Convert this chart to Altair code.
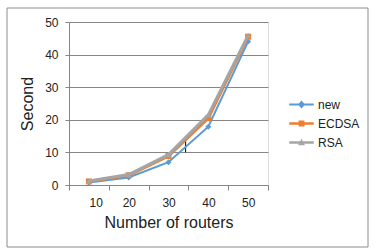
import altair as alt
import pandas as pd

routers = [10, 20, 30, 40, 50]
new_vals = [0.8, 2.3, 7.0, 17.9, 44.0]
ecdsa_vals = [1.1, 3.0, 8.9, 20.5, 45.5]
rsa_vals = [1.2, 3.2, 9.3, 21.5, 45.9]
series = ["new", "ECDSA", "RSA"]
colors = ["#5B9BD5", "#ED7D31", "#A5A5A5"]
marker_shapes = ["diamond", "square", "triangle-up"]
line_widths = [2, 3, 3]
y_ticks = [0, 10, 20, 30, 40, 50]
stray_x = [34.3]
stray_y = [10.0]
stray_y2 = [14.6]

rows = []
for name, vals in zip(series, [new_vals, ecdsa_vals, rsa_vals]):
    for r, v in zip(routers, vals):
        rows.append({"routers": r, "seconds": v, "series": name})
df = pd.DataFrame(rows)
stray = pd.DataFrame({"routers": stray_x, "seconds": stray_y, "seconds2": stray_y2})

FONT = "Liberation Sans"
step = routers[1] - routers[0]
x_edges = [r - step / 2 for r in routers] + [routers[-1] + step / 2]

x_scale = alt.Scale(domain=[x_edges[0], x_edges[-1]], nice=False, zero=False)
y_scale = alt.Scale(domain=[0, 50], nice=False)

legend_paths = [
    "M-1,-0.09H1V0.09H-1Z M0,-0.32L0.3,0L0,0.32L-0.3,0Z",
    "M-1,-0.11H1V0.11H-1Z M-0.24,-0.24H0.24V0.24H-0.24Z",
    "M-1,-0.11H1V0.11H-1Z M0,-0.3L0.28,0.22H-0.28Z",
]

color_scale = alt.Scale(domain=series, range=colors)

x_enc = alt.X(
    "routers:Q",
    scale=x_scale,
    title="Number of routers",
    axis=alt.Axis(
        values=x_edges,
        labelExpr="datum.value < %g ? format(datum.value + %g, 'd') : ''" % (x_edges[-1], step / 2),
        labelOffset=20,
        labelOverlap=False,
        grid=False,
        tickSize=5,
        tickColor="#868686",
        domainColor="#868686",
        labelFont=FONT,
        labelFontSize=12,
        labelColor="#222222",
        labelPadding=7,
        titleFont=FONT,
        titleFontSize=16,
        titleFontWeight="normal",
        titleColor="#222222",
        titlePadding=6,
    ),
)
y_enc = alt.Y(
    "seconds:Q",
    scale=y_scale,
    title="Second",
    axis=alt.Axis(
        values=y_ticks,
        labelOverlap=False,
        grid=True,
        gridColor="#868686",
        tickSize=4,
        tickColor="#868686",
        domainColor="#868686",
        labelFont=FONT,
        labelFontSize=12,
        labelColor="#222222",
        labelPadding=7,
        titleFont=FONT,
        titleFontSize=16,
        titleFontWeight="normal",
        titleColor="#222222",
        titlePadding=9,
    ),
)

legend_def = alt.Legend(
    title=None,
    orient="none",
    legendX=220,
    legendY=70,
    symbolSize=600,
    symbolStrokeWidth=0,
    symbolOpacity=1,
    rowPadding=0,
    labelOffset=4,
    labelFont=FONT,
    labelFontSize=12,
    labelColor="#222222",
    padding=0,
)

color_enc = alt.Color("series:N", scale=color_scale, legend=legend_def)

layers = []
for name, shape, lw in zip(series, marker_shapes, line_widths):
    base = alt.Chart(df).transform_filter(alt.datum.series == name)
    layers.append(base.mark_line(strokeWidth=lw).encode(x=x_enc, y=y_enc, color=color_enc))
    layers.append(
        base.mark_point(filled=True, shape=shape, size=36, opacity=1).encode(
            x=x_enc, y=y_enc, color=color_enc
        )
    )

legend_layer = alt.Chart(df).mark_point(filled=True, opacity=0).encode(
    x=x_enc,
    y=y_enc,
    color=color_enc,
    shape=alt.Shape(
        "series:N",
        scale=alt.Scale(domain=series, range=legend_paths),
        legend=legend_def,
    ),
)

stray_layer = alt.Chart(stray).mark_rule(color="#000000", strokeWidth=1).encode(
    x=x_enc,
    y=y_enc,
    y2="seconds2:Q",
)

border = alt.Chart(stray).mark_rect(fill=None, stroke="#8C8C8C", strokeWidth=1).encode(
    x=alt.value(-62), x2=alt.value(299), y=alt.value(-14), y2=alt.value(225)
)

chart = alt.layer(border, legend_layer, stray_layer, *layers).properties(
    width=199,
    height=163,
    autosize=alt.AutoSizeParams(type="none"),
    padding={"left": 69, "top": 22, "right": 112, "bottom": 67},
).configure_view(stroke=None).configure(background="white")

chart.save("out.html", embed_options={"renderer": "svg", "actions": False})
